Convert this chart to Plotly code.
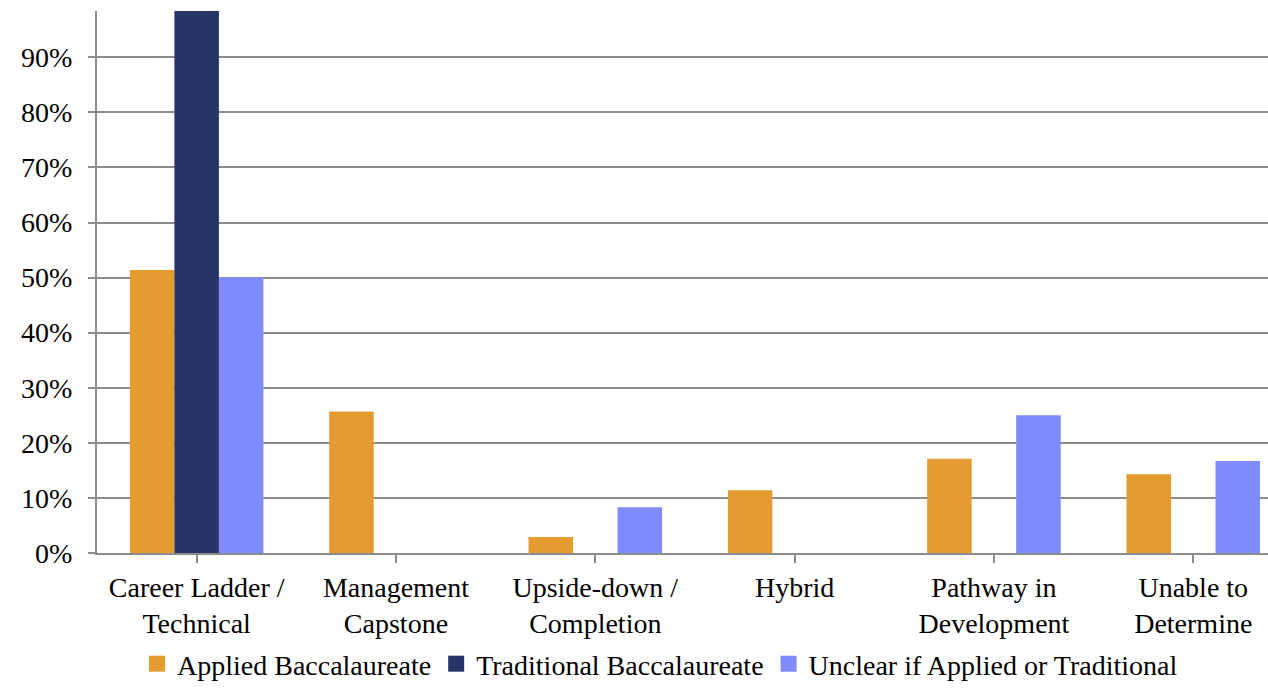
import plotly.graph_objects as go

categories = [
    "Career Ladder /<br>Technical",
    "Management<br>Capstone",
    "Upside-down /<br>Completion",
    "Hybrid",
    "Pathway in<br>Development",
    "Unable to<br>Determine",
]
applied = [0.514, 0.257, 0.029, 0.114, 0.171, 0.143]
traditional = [1.0, 0.0, 0.0, 0.0, 0.0, 0.0]
unclear = [0.50, 0.0, 0.083, 0.0, 0.25, 0.167]

series_names = [
    "Applied Baccalaureate",
    "Traditional Baccalaureate",
    "Unclear if Applied or Traditional",
]
series_colors = ["#E49B30", "#263468", "#7F8BFB"]

y_ticks = [0, 0.1, 0.2, 0.3, 0.4, 0.5, 0.6, 0.7, 0.8, 0.9]

FONT = "Liberation Serif, Times New Roman, serif"

fig = go.Figure()
for name, vals, col in zip(series_names, [applied, traditional, unclear], series_colors):
    fig.add_trace(go.Bar(
        x=list(range(len(categories))), y=vals, name=name,
        marker=dict(color=col, line=dict(width=0)),
        legendgroup=name, showlegend=False,
    ))

# legend keys drawn as larger square swatches
for name, col in zip(series_names, series_colors):
    fig.add_trace(go.Scatter(
        x=[None], y=[None], mode="markers", name=name, legendgroup=name,
        marker=dict(symbol="square", size=16, color=col),
        showlegend=True, hoverinfo="skip",
    ))

fig.update_layout(
    width=1268, height=689,
    margin=dict(l=97, r=0, t=11, b=136),
    paper_bgcolor="white", plot_bgcolor="white",
    barmode="group", bargap=0.33, bargroupgap=0,
    font=dict(family=FONT, size=28, color="black"),
    showlegend=True,
    legend=dict(
        orientation="h", x=0.5205, xanchor="center", xref="container",
        y=0, yanchor="bottom", yref="container",
        font=dict(family=FONT, size=28, color="black"),
        itemwidth=30, traceorder="normal", itemsizing="trace",
    ),
)

fig.update_xaxes(
    tickmode="array", tickvals=list(range(len(categories))), ticktext=categories,
    range=[-0.5, 5.375], automargin=False,
    showline=True, linecolor="#8C8C8C", linewidth=2,
    ticks="outside", tickson="boundaries", ticklen=8, tickcolor="#8C8C8C", tickwidth=2,
    showgrid=False, zeroline=False,
    tickfont=dict(family=FONT, size=28, color="black"),
)
fig.update_yaxes(
    range=[0, 0.984], tickvals=y_ticks, tickformat=".0%", automargin=False,
    showline=True, linecolor="#8C8C8C", linewidth=2,
    ticks="outside", ticklen=7, tickcolor="#8C8C8C", tickwidth=2,
    showgrid=True, gridcolor="#8C8C8C", gridwidth=2,
    zeroline=False, ticklabelstandoff=10,
    tickfont=dict(family=FONT, size=28, color="black"),
)

fig.write_html("out.html")
